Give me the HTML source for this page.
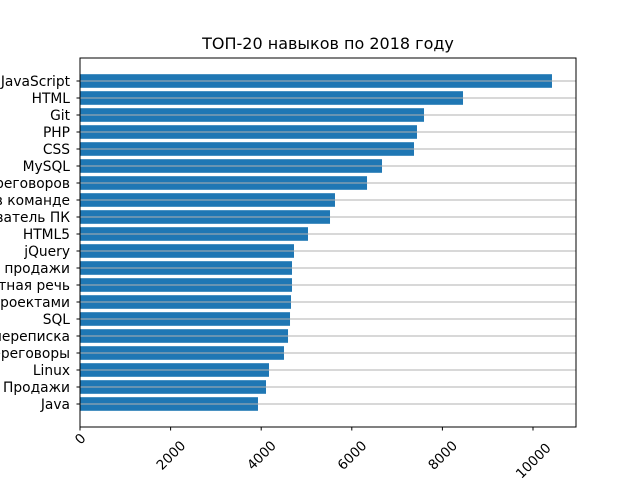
<!DOCTYPE html>
<html><head><meta charset="utf-8"><style>
body{margin:0;background:#fff}
svg{display:block;font-family:"DejaVu Sans","Liberation Sans",sans-serif}
</style></head><body>
<svg id="chart" width="640" height="480">
<rect x="0" y="0" width="640" height="480" fill="#fff"/>
<text x="328" y="49" font-size="16" text-anchor="middle">ТОП-20 навыков по 2018 году</text>
<g id="bars"></g><g id="grid"></g><g id="yax"></g><g id="xax"></g>
<rect x="80" y="58" width="496" height="369" fill="none" stroke="#000" stroke-width="1"/>
</svg>
<script>
const categories = ["JavaScript","HTML","Git","PHP","CSS","MySQL","Ведение переговоров","Работа в команде","Пользователь ПК","HTML5","jQuery","Активные продажи","Грамотная речь","Управление проектами","SQL","Деловая переписка","Телефонные переговоры","Linux","Холодные Продажи","Java"];
const values = [10419,8455,7594,7439,7373,6667,6336,5629,5519,5033,4724,4680,4680,4658,4636,4592,4503,4172,4106,3929];
const xTicks = [0,2000,4000,6000,8000,10000];
const NS="http://www.w3.org/2000/svg";
const X0=80, PX=45.3;
function xs(v){return X0+v*PX/1000;}
function ys(i){return 81+i*17;}
function mk(t,a,p){const e=document.createElementNS(NS,t);for(const k in a)e.setAttribute(k,a[k]);document.getElementById(p).appendChild(e);return e;}
categories.forEach((c,i)=>{
  const b=mk("rect",{x:X0,y:ys(i)-6.8,width:xs(values[i])-X0,height:13.6,fill:"#1f77b4"},"bars");
  
  
  const g=mk("line",{x1:X0,x2:576,y1:ys(i),y2:ys(i),stroke:"#b0b0b0","stroke-width":1},"grid");
  
  
  const tk=mk("line",{x1:X0-3.5,x2:X0,y1:ys(i),y2:ys(i),stroke:"#000"},"yax");
  
  
  const t=mk("text",{x:X0-10,y:ys(i)+5,"font-size":13.8,"text-anchor":"end"},"yax");
  t.textContent=c;
  
  
});
xTicks.forEach(v=>{
  const x=xs(v);
  const tk=mk("line",{x1:x,x2:x,y1:427,y2:430.5,stroke:"#000"},"xax");
  
  
  const cy=433+String(v).length*5.5;
  const t=mk("text",{x:x,y:cy+5,"font-size":13.5,"text-anchor":"middle",transform:`rotate(-45 ${x} ${cy})`},"xax");
  t.textContent=v;
  
  
});
</script>
</body></html>
